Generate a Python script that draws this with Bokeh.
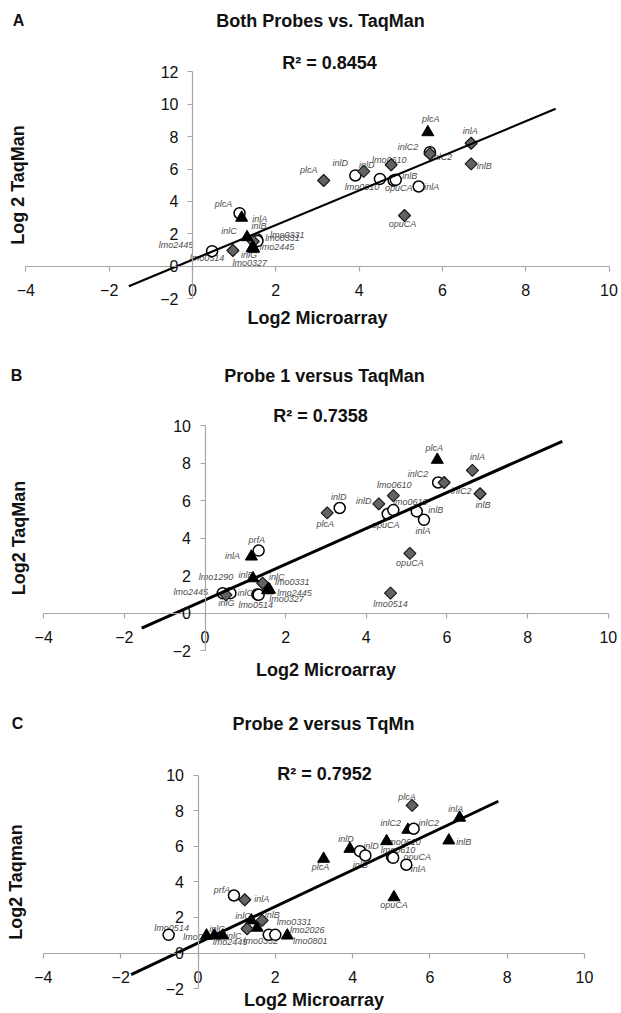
import numpy as np
from bokeh.plotting import figure
from bokeh.layouts import column
from bokeh.models import Range1d, LinearAxis, FixedTicker, Label, ColumnDataSource
from bokeh.core.properties import value
from bokeh.embed import file_html
from bokeh.resources import INLINE

FONT = "Liberation Sans"

# ------------------------------------------------------------------ data
x_ticks = [-4, -2, 0, 2, 4, 6, 8, 10]
a_y_ticks = [-2, 0, 2, 4, 6, 8, 10, 12]
bc_y_ticks = [-2, 0, 2, 4, 6, 8, 10]

x_title = "Log2 Microarray"

# Panel A
a_letter = "A"
a_title = "Both Probes vs. TaqMan"
a_r2 = "R² = 0.8454"
a_ylabel = "Log 2 TaqMan"
a_circle_genes = ["lmo2445", "plcA", "inlB", "lmo0331", "inlD", "lmo0610", "opuCA", "inlB", "inlA", "inlC2"]
a_circle_x = [0.47, 1.13, 1.55, 1.56, 3.91, 4.50, 4.83, 4.88, 5.43, 5.70]
a_circle_y = [0.93, 3.27, 1.66, 1.55, 5.60, 5.39, 5.29, 5.33, 4.92, 7.04]
a_diamond_genes = ["lmo0514", "lmo0331", "plcA", "inlD", "lmo0610", "opuCA", "inlC2", "inlA", "inlB"]
a_diamond_x = [0.97, 1.46, 3.15, 4.11, 4.77, 5.09, 5.70, 6.69, 6.69]
a_diamond_y = [0.97, 1.53, 5.29, 5.85, 6.26, 3.13, 6.94, 7.59, 6.32]
a_triangle_genes = ["inlA", "inlC", "lmo2445", "inlG", "lmo0327", "plcA"]
a_triangle_x = [1.18, 1.31, 1.45, 1.43, 1.47, 5.65]
a_triangle_y = [2.99, 1.79, 1.17, 1.10, 1.08, 8.27]
a_trend_slope = 1.068
a_trend_intercept = 0.40
a_trend_x = [-1.53, 8.72]

# Panel B
b_letter = "B"
b_title = "Probe 1 versus TaqMan"
b_r2 = "R² = 0.7358"
b_ylabel = "Log2 TaqMan"
b_circle_genes = ["lmo2445", "inlG", "prfA", "inlG", "lmo0514", "inlD", "opuCA", "lmo0610", "inlB", "inlA", "inlC2"]
b_circle_x = [0.44, 0.63, 1.33, 1.30, 1.33, 3.34, 4.53, 4.67, 5.25, 5.43, 5.78]
b_circle_y = [1.07, 1.07, 3.34, 1.00, 0.98, 5.61, 5.29, 5.50, 5.43, 4.98, 6.97]
b_diamond_genes = ["lmo1290", "inlC", "plcA", "inlD", "lmo0610", "opuCA", "lmo0514", "inlC2", "inlA", "inlB"]
b_diamond_x = [0.52, 1.43, 3.03, 4.31, 4.67, 5.08, 4.60, 5.93, 6.63, 6.82]
b_diamond_y = [0.98, 1.60, 5.35, 5.83, 6.27, 3.19, 1.07, 6.97, 7.62, 6.37]
b_triangle_genes = ["inlA", "inlB", "lmo0331", "lmo2445", "lmo0327", "plcA"]
b_triangle_x = [1.15, 1.19, 1.57, 1.60, 1.55, 5.76]
b_triangle_y = [3.02, 1.86, 1.30, 1.25, 1.22, 8.18]
b_trend_slope = 0.956
b_trend_intercept = 0.70
b_trend_x = [-1.57, 8.86]

# Panel C
c_letter = "C"
c_title = "Probe 2 versus TqMn"
c_r2 = "R² = 0.7952"
c_ylabel = "Log2 Taqman"
c_circle_genes = ["lmo0514", "prfA", "lmo0332", "lmo2026", "inlD", "inlB", "lmo0610", "opuCA", "inlA", "inlC2"]
c_circle_x = [-0.76, 0.93, 1.83, 2.00, 4.19, 4.33, 5.02, 5.05, 5.39, 5.58]
c_circle_y = [1.02, 3.23, 1.02, 1.02, 5.72, 5.48, 5.40, 5.35, 4.96, 6.98]
c_diamond_genes = ["inlA", "lmo2445", "inlB", "plcA"]
c_diamond_x = [1.21, 1.27, 1.66, 5.54]
c_diamond_y = [2.99, 1.36, 1.83, 8.29]
c_triangle_genes = ["lmo0327", "inlG", "inlC", "inlG", "lmo0331", "lmo0801", "plcA", "inlD",
                    "lmo0610", "opuCA", "inlC2", "inlA", "inlB"]
c_triangle_x = [0.22, 0.42, 0.64, 1.38, 1.53, 2.31, 3.25, 3.93, 4.88, 5.07, 5.43, 6.77, 6.49]
c_triangle_y = [0.98, 0.98, 0.98, 1.83, 1.42, 0.98, 5.29, 5.85, 6.28, 3.13, 6.92, 7.60, 6.32]
c_trend_slope = 1.025
c_trend_intercept = 0.56
c_trend_x = [-1.73, 7.77]

# ------------------------------------------------ label offsets (pixels)
a_circle_off = [(-36, -6), (-16, -9), (2, -13), (25, -3), (-15, -12), (-18, 8), (5, 7), (14, -4), (13, 1), (-22, -5)]
a_diamond_off = [(-26, 8), (34, -6), (-15, -11), (3, -6), (-2, -5), (-2, 9), (12, 3), (-1, -12), (13, 2)]
a_triangle_off = [(18, 1), (-18, -6), (24, 0), (-3, 7), (-4, 14), (3, -13)]

b_circle_off = [(-32, -1), (-4, 10), (-2, -11), (-12, -1), (-3, 10), (-1, -11), (-2, 11), (17, -8), (19, -1), (-1, 11), (-20, -9)]
b_diamond_off = [(-10, -18), (14, -6), (-2, 11), (-15, -3), (1, -11), (0, 10), (0, 11), (17, 8), (5, -13), (3, 11)]
b_triangle_off = [(-19, -1), (-7, -3), (24, -7), (25, 3), (19, 9), (-3, -12)]

c_circle_off = [(3, -7), (-12, -6), (-8, 6), (32, -5), (11, -5), (-5, 10), (6, -7), (24, -1), (12, 4), (15, -6)]
c_diamond_off = [(17, -1), (-17, 13), (10, -5), (-5, -8)]
c_triangle_off = [(-6, 1), (3, -7), (11, 0), (-8, -4), (37, -6), (23, 5), (-3, 8), (-4, -10),
                  (17, 1), (0, 8), (-17, -7), (-4, -9), (15, 1)]

PAGE_W = 621


def make_panel(letter, title, r2, ylabel, y_ticks, series, trend, geom, texts, axis_std):
    # geom: picture px of data origin and px per data unit, figure top and height
    x0, ux, y0, uy, top, height = geom
    xs = (0 - x0) / ux
    xe = (PAGE_W - x0) / ux
    yt = (y0 - top) / uy
    yb = (y0 - (top + height)) / uy

    def to_data(px, py):
        return (px - x0) / ux, (y0 - py) / uy

    p = figure(width=PAGE_W, height=height, x_range=Range1d(xs, xe), y_range=Range1d(yb, yt),
               output_backend="svg", toolbar_location=None,
               x_axis_location=None, y_axis_location=None,
               min_border=0, outline_line_color=None)
    p.xgrid.visible = False
    p.ygrid.visible = False

    xaxis = LinearAxis(fixed_location=0, bounds=(x_ticks[0], x_ticks[-1]),
                       ticker=FixedTicker(ticks=x_ticks), axis_label=x_title)
    yaxis = LinearAxis(fixed_location=0, bounds=(y_ticks[0], y_ticks[-1]),
                       ticker=FixedTicker(ticks=y_ticks), axis_label=ylabel)
    for ax in (xaxis, yaxis):
        ax.axis_line_color = "#a6a6a6"
        ax.axis_line_width = 1.2
        ax.major_tick_line_color = "#a6a6a6"
        ax.major_tick_line_width = 1.2
        ax.minor_tick_line_color = None
        ax.major_tick_in = 0
        ax.major_tick_out = 5
        ax.major_label_text_font = FONT
        ax.major_label_text_font_size = "16px"
        ax.major_label_text_color = "#111111"
        ax.axis_label_text_font = FONT
        ax.axis_label_text_font_size = "18px"
        ax.axis_label_text_font_style = "bold"
        ax.axis_label_text_color = "#111111"
    xaxis.major_label_standoff = 13
    yaxis.major_label_standoff = 9
    xaxis.axis_label_standoff = axis_std[0]
    yaxis.axis_label_standoff = axis_std[1]
    p.add_layout(xaxis, "below")
    p.add_layout(yaxis, "left")

    # gene labels (drawn beneath markers)
    for (genes, xv, yv, offs, kind) in series:
        src = ColumnDataSource(dict(x=xv, y=yv, text=genes,
                                    dx=[o[0] for o in offs], dy=[o[1] for o in offs]))
        p.text(x="x", y="y", text="text", x_offset="dx", y_offset="dy", source=src,
               text_font=value(FONT), text_font_size="9px", text_font_style="italic",
               text_color="#4d4d4d", text_align="center", text_baseline="middle")

    for (genes, xv, yv, offs, kind) in series:
        if kind == "circle":
            p.scatter(xv, yv, marker="circle", size=11, fill_color="white",
                      line_color="black", line_width=1.5)
        elif kind == "diamond":
            p.scatter(xv, yv, marker="square", angle=np.pi / 4, size=8.5,
                      fill_color="#636363", line_color="#1a1a1a", line_width=1.2)
        else:
            p.scatter(xv, yv, marker="triangle", size=12, fill_color="black",
                      line_color="black", line_width=1)

    slope, intercept, tx, lw = trend
    ty = [slope * v + intercept for v in tx]
    p.line(tx, ty, line_color="black", line_width=lw)

    (lx, ly), (tx_, ty_), (rx, ry) = texts
    for txt, (px, py), size in ((letter, (lx, ly), "16px"), (title, (tx_, ty_), "18px"),
                                (r2, (rx, ry), "18px")):
        dxv, dyv = to_data(px, py)
        p.add_layout(Label(x=dxv, y=dyv, text=txt, text_font=FONT, text_font_size=size,
                           text_font_style="bold", text_color="#111111",
                           text_align="center", text_baseline="middle"))
    return p


pa = make_panel(a_letter, a_title, a_r2, a_ylabel, a_y_ticks,
                [(a_circle_genes, a_circle_x, a_circle_y, a_circle_off, "circle"),
                 (a_diamond_genes, a_diamond_x, a_diamond_y, a_diamond_off, "diamond"),
                 (a_triangle_genes, a_triangle_x, a_triangle_y, a_triangle_off, "triangle")],
                (a_trend_slope, a_trend_intercept, a_trend_x, 2.2),
                (192, 41.65, 265.7, 16.2, 0, 335),
                ((18, 20), (320, 20), (329, 62)), (8, 129))

pb = make_panel(b_letter, b_title, b_r2, b_ylabel, bc_y_ticks,
                [(b_circle_genes, b_circle_x, b_circle_y, b_circle_off, "circle"),
                 (b_diamond_genes, b_diamond_x, b_diamond_y, b_diamond_off, "diamond"),
                 (b_triangle_genes, b_triangle_x, b_triangle_y, b_triangle_off, "triangle")],
                (b_trend_slope, b_trend_intercept, b_trend_x, 3),
                (204.5, 40.33, 612.7, 18.75, 335, 345),
                ((16, 375), (324, 375), (320, 415)), (13, 141))

pc = make_panel(c_letter, c_title, c_r2, c_ylabel, bc_y_ticks,
                [(c_triangle_genes, c_triangle_x, c_triangle_y, c_triangle_off, "triangle"),
                 (c_circle_genes, c_circle_x, c_circle_y, c_circle_off, "circle"),
                 (c_diamond_genes, c_diamond_x, c_diamond_y, c_diamond_off, "diamond")],
                (c_trend_slope, c_trend_intercept, c_trend_x, 3),
                (197.5, 38.65, 952.5, 17.8, 680, 333),
                ((17, 723), (323, 723), (324, 773)), (3, 137))

layout = column(pa, pb, pc, spacing=0)
open("out.html", "w").write(file_html(layout, INLINE))
